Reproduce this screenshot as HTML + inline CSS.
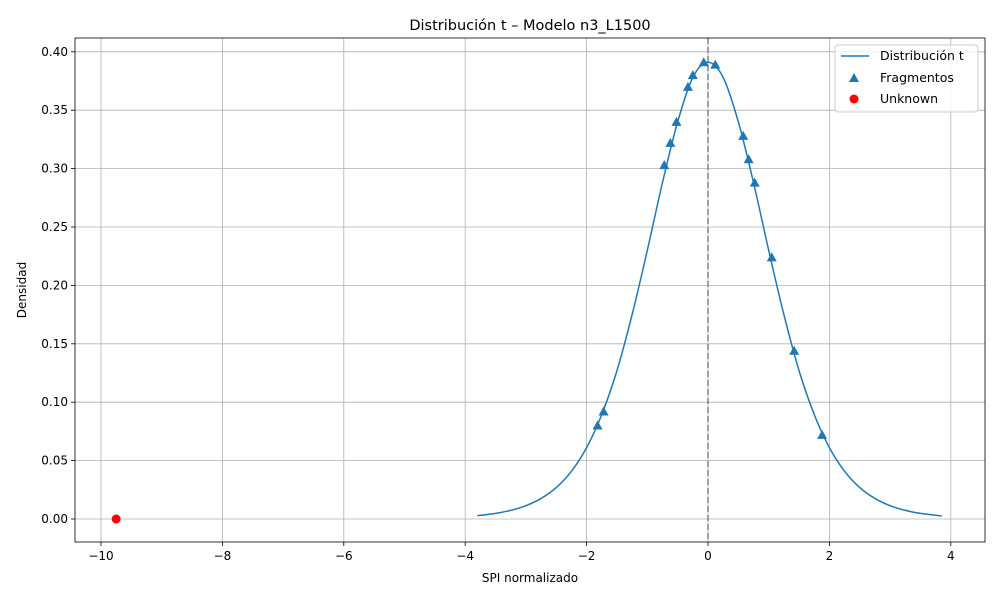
<!DOCTYPE html>
<html><head><meta charset="utf-8"><style>
body{margin:0;background:#fff;font-family:"Liberation Sans","DejaVu Sans",sans-serif}
svg text{font-family:"DejaVu Sans","Liberation Sans",sans-serif;fill:#000}
</style></head><body>
<svg id="chart" width="1000" height="600" xmlns="http://www.w3.org/2000/svg"></svg>
<script>
const curveX=[-3.8,-3.5,-3.25,-3,-2.75,-2.5,-2.25,-2,-1.75,-1.5,-1.25,-1,-0.75,-0.5,-0.25,0,0.25,0.5,0.75,1,1.25,1.5,1.75,2,2.25,2.5,2.75,3,3.25,3.5,3.85];
const curveY=[0.0028,0.0048,0.0074,0.0114,0.0176,0.0269,0.0408,0.0611,0.0895,0.127,0.175,0.230,0.288,0.340,0.378,0.391,0.378,0.340,0.288,0.230,0.175,0.127,0.0895,0.0611,0.0408,0.0269,0.0176,0.0114,0.0074,0.0048,0.0026];
const fragX=[-1.82,-1.72,-0.72,-0.62,-0.52,-0.33,-0.25,-0.07,0.12,0.58,0.67,0.77,1.05,1.42,1.88];
const fragY=[0.080,0.092,0.303,0.322,0.340,0.370,0.380,0.391,0.389,0.328,0.308,0.288,0.224,0.144,0.072];
const unkX=[-9.75];
const unkY=[0.0];
const xTicks=[-10,-8,-6,-4,-2,0,2,4];
const yTicks=[0,0.05,0.10,0.15,0.20,0.25,0.30,0.35,0.40];
const L=75,R=985,T=38,B=542;
const sx=v=>708+v*60.7, sy=v=>519-v*1168;
const svg=document.getElementById('chart');
const NS='http://www.w3.org/2000/svg';
function mk(tag,attrs,parent){const e=document.createElementNS(NS,tag);for(const k in attrs)e.setAttribute(k,attrs[k]);(parent||svg).appendChild(e);return e;}
xTicks.forEach(t=>{const x=sx(t);
 const g=mk('line',{x1:x,x2:x,y1:T,y2:B,stroke:'#b0b0b0','stroke-width':0.8});
 
 mk('line',{x1:x,x2:x,y1:B,y2:B+4,stroke:'#000','stroke-width':0.8});
 const tx=mk('text',{x:x,y:B+18,'text-anchor':'middle','font-size':12});tx.textContent=(t<0?'\u2212'+(-t):t);
 
});
yTicks.forEach(t=>{const y=sy(t);
 const g=mk('line',{x1:L,x2:R,y1:y,y2:y,stroke:'#b0b0b0','stroke-width':0.8});
 
 mk('line',{x1:L-4,x2:L,y1:y,y2:y,stroke:'#000','stroke-width':0.8});
 const tx=mk('text',{x:L-7,y:y+4,'text-anchor':'end','font-size':12});tx.textContent=t.toFixed(2);
 
});
const vl=mk('line',{x1:sx(0),x2:sx(0),y1:T,y2:B,stroke:'#808080','stroke-width':1.5,'stroke-dasharray':'6,3'});

const pts=curveX.map((x,i)=>[sx(x),sy(curveY[i])]);
let d='M'+pts[0][0]+','+pts[0][1];
for(let i=0;i<pts.length-1;i++){const p0=pts[i-1]||pts[i],p1=pts[i],p2=pts[i+1],p3=pts[i+2]||p2;
 d+=`C${p1[0]+(p2[0]-p0[0])/6},${p1[1]+(p2[1]-p0[1])/6} ${p2[0]-(p3[0]-p1[0])/6},${p2[1]-(p3[1]-p1[1])/6} ${p2[0]},${p2[1]}`;}
const cp=mk('path',{d:d,fill:'none',stroke:'#1f77b4','stroke-width':1.5});

function tri(x,y,s){return `${x},${y-s} ${x-s},${y+s*0.8} ${x+s},${y+s*0.8}`;}
fragX.forEach((v,i)=>{const p=mk('polygon',{points:tri(sx(v),sy(fragY[i]),5),fill:'#1f77b4'});
 });
unkX.forEach((v,i)=>{const c=mk('circle',{cx:sx(v),cy:sy(unkY[i]),r:4.5,fill:'#ff0000'});
 });
const fr=mk('rect',{x:L,y:T,width:R-L,height:B-T,fill:'none',stroke:'#000','stroke-width':0.8});

let t=mk('text',{x:530,y:30,'text-anchor':'middle','font-size':14.5});t.textContent='Distribución t – Modelo n3_L1500';

t=mk('text',{x:530,y:582,'text-anchor':'middle','font-size':12});t.textContent='SPI normalizado';

t=mk('text',{x:26,y:290,'text-anchor':'middle','font-size':12,transform:'rotate(-90 26 290)'});t.textContent='Densidad';

const lg=mk('g',{});

mk('rect',{x:835,y:45,width:143,height:67,rx:3,fill:'#fff','fill-opacity':0.8,stroke:'#ccc'},lg);
mk('line',{x1:841,x2:869,y1:56,y2:56,stroke:'#1f77b4','stroke-width':1.5},lg);
mk('polygon',{points:tri(854,78,5),fill:'#1f77b4'},lg);
mk('circle',{cx:854,cy:99,r:4.5,fill:'#ff0000'},lg);
[['Distribución t',60,'legend-entry-curve'],['Fragmentos',82,'legend-entry-fragments'],['Unknown',103,'legend-entry-unknown']].forEach(a=>{
 const e=mk('text',{x:880,y:a[1],'font-size':12.5},lg);e.textContent=a[0];
 });
</script>
</body></html>
